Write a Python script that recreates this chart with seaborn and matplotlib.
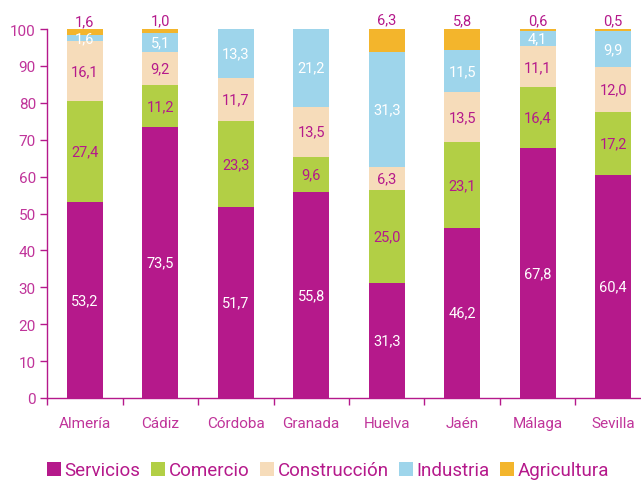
import matplotlib
matplotlib.use("Agg")
import matplotlib.pyplot as plt
import seaborn as sns
import numpy as np
import pandas as pd
from matplotlib.patches import Patch
from matplotlib.ticker import FixedLocator

provincias = ["Almería", "Cádiz", "Córdoba", "Granada", "Huelva", "Jaén", "Málaga", "Sevilla"]
servicios = [53.2, 73.5, 51.7, 55.8, 31.3, 46.2, 67.8, 60.4]
comercio = [27.4, 11.2, 23.3, 9.6, 25.0, 23.1, 16.4, 17.2]
construccion = [16.1, 9.2, 11.7, 13.5, 6.3, 13.5, 11.1, 12.0]
industria = [1.6, 5.1, 13.3, 21.2, 31.3, 11.5, 4.1, 9.9]
agricultura = [1.6, 1.0, 0.0, 0.0, 6.3, 5.8, 0.6, 0.5]
sectores = ["Servicios", "Comercio", "Construcción", "Industria", "Agricultura"]

colors = ["#B5198B", "#B2CF45", "#F6DCBA", "#9ED5EB", "#F3B52C"]
txt_colors = ["white", "#B5198B", "#B5198B", "white", "#B5198B"]
MAG = "#B5198B"
TICK = "#C0349A"

sns.set_style("white")
plt.rcParams["font.family"] = ["Roboto", "DejaVu Sans"]

series = [servicios, comercio, construccion, industria, agricultura]
cum = np.cumsum(np.array(series), axis=0)

fig = plt.figure(figsize=(6.41, 4.81), dpi=100)
ax = fig.add_axes([47/641, 1-399/481, 604/641, (399-30)/481])

for i in range(4, -1, -1):
    df = pd.DataFrame({"prov": provincias, "val": cum[i]})
    sns.barplot(data=df, x="prov", y="val", color=colors[i], saturation=1,
                width=0.48, ax=ax, linewidth=0, edgecolor="none")

for i in range(5):
    for j, p in enumerate(provincias):
        v = series[i][j]
        if v <= 0:
            continue
        lab = f"{v:.1f}".replace(".", ",")
        if i == 4:
            ax.text(j, cum[i][j] + 0.4, lab, ha="center", va="bottom",
                    color=txt_colors[i], fontsize=10.5)
        else:
            ax.text(j, cum[i][j] - v / 2, lab, ha="center", va="center",
                    color=txt_colors[i], fontsize=10.5)

ax.set_xlim(-0.5, 7.5)
ax.set_ylim(0, 100)
ax.set_yticks(range(0, 101, 10))
ax.set_xlabel("")
ax.set_ylabel("")
for s in ["top", "right"]:
    ax.spines[s].set_visible(False)
for s in ["left", "bottom"]:
    ax.spines[s].set_color(MAG)
    ax.spines[s].set_linewidth(1)
ax.tick_params(axis="y", direction="out", length=5, width=1, color=MAG,
               labelcolor=TICK, labelsize=11, pad=3, left=True)
ax.tick_params(axis="x", which="major", length=0, labelcolor=TICK,
               labelsize=11, pad=13)
ax.xaxis.set_minor_locator(FixedLocator(np.arange(-0.5, 8, 1)))
ax.tick_params(axis="x", which="minor", direction="out", length=5, width=1,
               color=MAG, bottom=True)

handles = [Patch(facecolor=c, edgecolor="none") for c in colors]
fig.legend(handles, sectores, loc="center", bbox_to_anchor=(0.512, 0.02),
           ncol=5, frameon=False, fontsize=13.5, labelcolor=MAG,
           handlelength=0.75, handleheight=0.75, handletextpad=0.2,
           columnspacing=0.55)

fig.savefig("out.png", dpi=100)
